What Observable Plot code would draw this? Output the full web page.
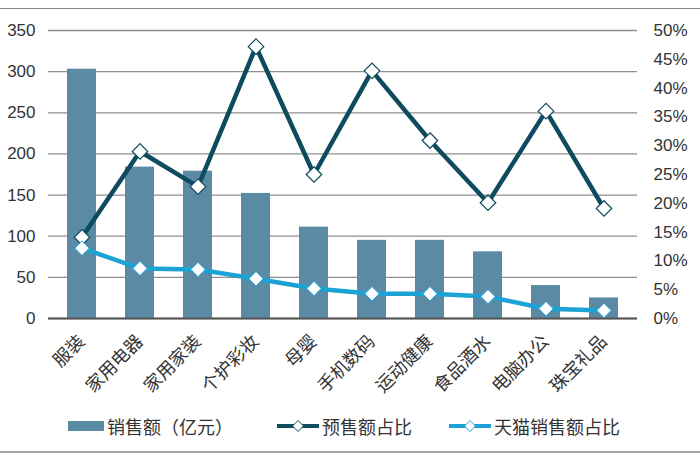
<!DOCTYPE html>
<html>
<head>
<meta charset="utf-8">
<script src="https://cdn.jsdelivr.net/npm/d3@7"></script>
<script src="https://cdn.jsdelivr.net/npm/@observablehq/plot@0.6"></script>
<style>
  html, body { margin: 0; padding: 0; background: #fff; }
  body { width: 700px; height: 470px; overflow: hidden; font-family: "Liberation Sans", "Noto Sans CJK SC", sans-serif; }
  #frame { position: absolute; top: 8px; left: 0; width: 700px; height: 445px; border-top: 1.5px solid #8a8a8a; border-bottom: 2px solid #a8a8a8; box-sizing: border-box; }
  #chart { position: absolute; top: 0; left: 0; }
  #legend { position: absolute; top: 404px; left: 0; width: 700px; height: 26px; font-family: "Noto Sans CJK SC", sans-serif; font-size: 18px; color: #333; }
  .item { position: absolute; top: 0; display: flex; align-items: center; height: 26px; white-space: nowrap; }
  .item svg { margin-right: 3px; }
</style>
</head>
<body>
<div id="frame">
  <div id="chart"></div>
  <div id="legend"></div>
</div>
<script>
const categories = ["服装","家用电器","家用家装","个护彩妆","母婴","手机数码","运动健康","食品酒水","电脑办公","珠宝礼品"];
const sales = [303, 184, 179, 152, 111, 95, 95, 81, 40, 25];          // 销售额（亿元）
const presaleShare = [14.1, 29.0, 22.9, 47.2, 25.0, 43.0, 30.9, 20.1, 36.0, 19.1]; // 预售额占比 %
const tmallShare = [12.2, 8.7, 8.5, 6.9, 5.2, 4.3, 4.3, 3.8, 1.7, 1.4];           // 天猫销售额占比 %
const leftTicks = [0, 50, 100, 150, 200, 250, 300, 350];
const rightTickLabels = ["0%","5%","10%","15%","20%","25%","30%","35%","40%","45%","50%"];
const seriesNames = ["销售额（亿元）", "预售额占比", "天猫销售额占比"];

const barColor = "#5b8aa4";
const presaleColor = "#0e4b5e";
const tmallColor = "#1ca3d6";

// percent axis (0–50%) mapped onto the left axis range (0–350)
const k = 350 / 50;

const rows = categories.map((c, i) => ({
  cat: c, sales: sales[i], presale: presaleShare[i] * k, tmall: tmallShare[i] * k
}));
const rightTicks = rightTickLabels.map((t, i) => i * 5 * k);

const plot = Plot.plot({
  width: 700,
  height: 400,
  marginTop: 21,
  marginBottom: 91,
  marginLeft: 48,
  marginRight: 63,
  style: { fontFamily: "'Liberation Sans', 'Noto Sans CJK SC', sans-serif", fontSize: "17px", color: "#333", background: "transparent" },
  x: { domain: categories, paddingInner: 0.5, paddingOuter: 0.25, axis: null, label: null },
  y: { domain: [0, 350], axis: null, label: null },
  marks: [
    Plot.gridY(leftTicks, { stroke: "#8f8f8f", strokeOpacity: 1, strokeWidth: 1.3 }),
    Plot.axisY(leftTicks, { anchor: "left", tickSize: 0, tickPadding: 13, fontSize: 17, label: null }),
    Plot.axisY(rightTicks, { anchor: "right", tickSize: 0, tickPadding: 16, textAnchor: "start", fontSize: 17, label: null,
      tickFormat: (d) => rightTickLabels[Math.round(d / (5 * k))] }),
    Plot.barY(rows, { x: "cat", y: "sales", fill: barColor }),
    Plot.ruleY([0], { stroke: "#555", strokeWidth: 2 }),
    Plot.axisX({ tickSize: 0, tickPadding: 20, tickRotate: -45, fontSize: 18, label: null, fontFamily: "'Noto Sans CJK SC', sans-serif" }),
    Plot.line(rows, { x: "cat", y: "presale", stroke: presaleColor, strokeWidth: 4.5, curve: "linear" }),
    Plot.dot(rows, { x: "cat", y: "presale", symbol: "diamond2", r: 7, fill: "white", stroke: presaleColor, strokeWidth: 1.2 }),
    Plot.line(rows, { x: "cat", y: "tmall", stroke: tmallColor, strokeWidth: 4.5, curve: "linear" }),
    Plot.dot(rows, { x: "cat", y: "tmall", symbol: "diamond2", r: 6.5, fill: "white", stroke: tmallColor, strokeWidth: 1 })
  ]
});
document.getElementById("chart").appendChild(plot);

// legend
const legend = d3.select("#legend");
const it1 = legend.append("div").attr("class", "item").style("left", "68px");
it1.append("svg").attr("width", 36).attr("height", 12).append("rect").attr("y", 1).attr("width", 36).attr("height", 10).attr("fill", barColor);
it1.append("span").text(seriesNames[0]);
[[seriesNames[1], presaleColor, 277], [seriesNames[2], tmallColor, 449]].forEach(([name, col, left]) => {
  const it = legend.append("div").attr("class", "item").style("left", left + "px");
  const s = it.append("svg").attr("width", 42).attr("height", 14);
  s.append("line").attr("x1", 0).attr("x2", 42).attr("y1", 7).attr("y2", 7).attr("stroke", col).attr("stroke-width", 4);
  s.append("path").attr("d", "M21,1.5 L26.5,7 L21,12.5 L15.5,7 Z").attr("fill", "white").attr("stroke", col).attr("stroke-width", 1);
  it.append("span").text(name);
});
</script>
</body>
</html>
